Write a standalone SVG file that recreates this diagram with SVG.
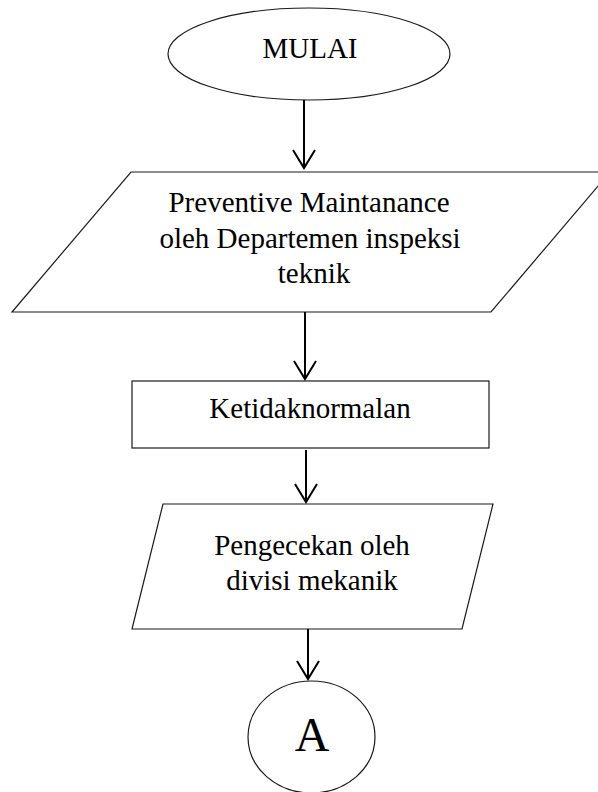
<svg xmlns="http://www.w3.org/2000/svg" width="598" height="792" viewBox="0 0 598 792">
  <style>
    .shape { fill: #ffffff; stroke: #1a1a1a; stroke-width: 1.2; }
    .label { font-family: "Liberation Serif", "Times New Roman", serif; font-size: 29px; fill: #000000; text-anchor: middle; }
    .big { font-size: 48px; }
    .flow { fill: none; stroke: #000000; stroke-width: 2; }
  </style>
  <defs>
    <!-- open V arrowhead, drawn along +x so orient="auto" points it down the line -->
    <marker id="open-arrow" markerUnits="userSpaceOnUse" markerWidth="22" markerHeight="26" refX="20" refY="13" orient="auto" viewBox="0 0 22 26">
      <path d="M2,2 L20,13 L2,24" fill="none" stroke="#000000" stroke-width="2"/>
    </marker>
  </defs>
  <rect width="598" height="792" fill="#ffffff"/>

  <g id="mulai">
    <ellipse class="shape" cx="309" cy="54" rx="141" ry="46"/>
    <text class="label" x="310" y="58">MULAI</text>
  </g>

  <g id="preventive">
    <polygon class="shape" points="131,172 610,172 491,312 12,312"/>
    <text class="label" x="309" y="212">Preventive Maintanance</text>
    <text class="label" x="310" y="248">oleh Departemen inspeksi</text>
    <text class="label" x="314" y="283">teknik</text>
  </g>

  <g id="ketidaknormalan">
    <rect class="shape" x="132" y="381" width="357" height="67"/>
    <text class="label" x="310" y="418">Ketidaknormalan</text>
  </g>

  <g id="pengecekan">
    <polygon class="shape" points="163,504 493,504 462,629 132,629"/>
    <text class="label" x="312" y="555">Pengecekan oleh</text>
    <text class="label" x="312" y="590">divisi mekanik</text>
  </g>

  <g id="konektor-a">
    <ellipse class="shape" cx="311.5" cy="737" rx="63.5" ry="56"/>
    <text class="label big" x="312" y="751">A</text>
  </g>

  <g id="connectors">
    <line class="flow" x1="304" y1="100" x2="304" y2="168" marker-end="url(#open-arrow)"/>
    <line class="flow" x1="305" y1="312" x2="305" y2="379" marker-end="url(#open-arrow)"/>
    <line class="flow" x1="306" y1="450" x2="306" y2="502" marker-end="url(#open-arrow)"/>
    <line class="flow" x1="308" y1="629" x2="308" y2="679" marker-end="url(#open-arrow)"/>
  </g>
</svg>
